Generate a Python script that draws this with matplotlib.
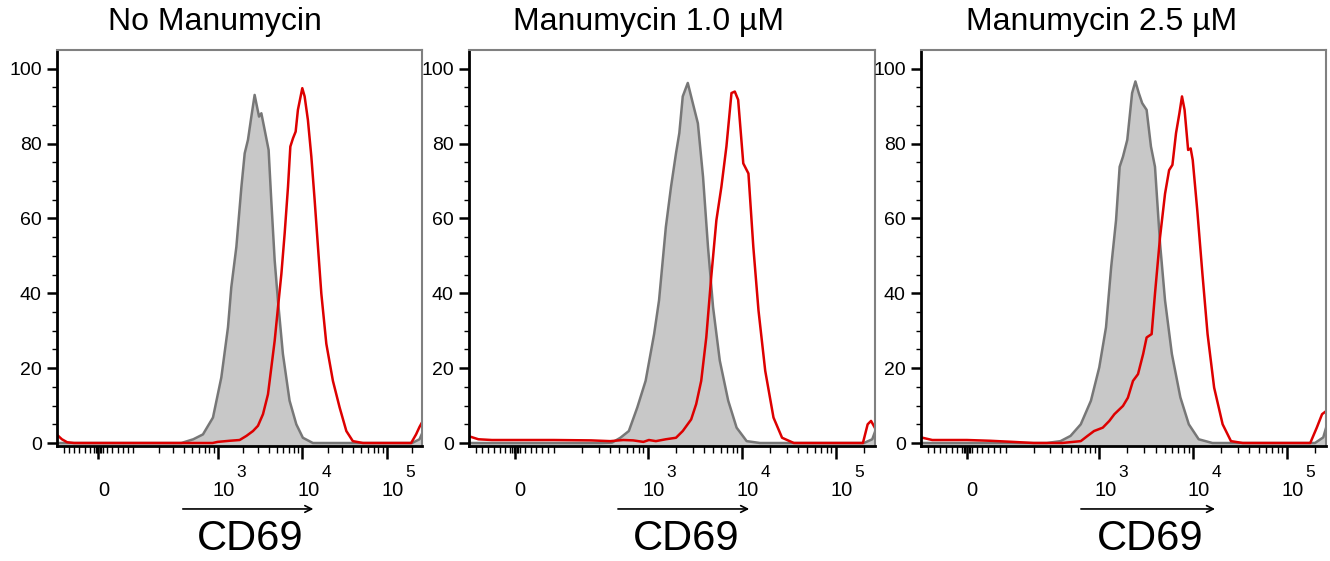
import numpy as np
import matplotlib
matplotlib.use("Agg")
import matplotlib.pyplot as plt
from matplotlib.ticker import FixedLocator, NullFormatter
import matplotlib.transforms as mtransforms

plt.rcParams['font.family'] = ['Liberation Sans', 'DejaVu Sans']

titles = ["No Manumycin", "Manumycin 1.0 µM", "Manumycin 2.5 µM"]

# CD69 fluorescence (x) and % of max (y)
ctrl1_x = [-120, 372, 515, 670, 880, 1105, 1325, 1450, 1665, 1910, 2090, 2285, 2505, 2740, 2920,
           3090, 3290, 3540, 4010, 4310, 4730, 5170, 5920, 7100, 8530, 10200, 13400, 200000, 245000, 262144]
ctrl1_y = [0, 0, 1.0, 2.3, 6.8, 17.5, 30.9, 41.6, 52.4, 68.4, 77.4, 81.0, 87.2, 93.0, 89.9,
           87.2, 88.1, 84.5, 78.3, 64.9, 48.8, 38.1, 23.8, 11.3, 5.0, 1.4, 0, 0, 1.0, 2.5]
stim1_x = [-120, -105, -90, -70, 870, 1000, 1390, 1820, 2190, 2620, 3000, 3440, 3940, 4320, 4730,
           5180, 5680, 6210, 6800, 7250, 7790, 8380, 8910, 10040, 10700, 11700, 12850, 14060, 15390,
           16870, 19330, 23130, 27770, 33350, 39800, 52400, 195000, 223000, 245000, 262144]
stim1_y = [2.2, 1.0, 0.2, 0, 0, 0.3, 0.6, 0.8, 1.9, 3.2, 4.6, 7.7, 13.0, 20.2, 27.3,
           36.3, 45.2, 56.0, 68.4, 79.2, 81.4, 83.2, 89.0, 94.8, 92.6, 86.3, 76.5, 64.9, 52.4,
           39.9, 26.5, 16.6, 9.5, 3.2, 0.5, 0, 0, 2.3, 4.3, 5.5]

ctrl2_x = [-120, 325, 417, 512, 630, 775, 950, 1170, 1320, 1560, 1770, 2000, 2170, 2360, 2670,
           3020, 3420, 3880, 4380, 4960, 5850, 7190, 8830, 11300, 15700, 200000, 245000, 262144]
ctrl2_y = [0, 0, 0.1, 1.4, 3.2, 9.5, 16.6, 29.1, 38.1, 57.7, 68.4, 77.4, 82.8, 92.6, 96.2,
           90.8, 85.4, 71.1, 52.4, 36.3, 22.0, 11.3, 4.1, 0.5, 0, 0, 1.0, 3.0]
stim2_x = [-120, -95, -60, 100, 250, 400, 550, 700, 900, 1030, 1220, 1560, 2000, 2360, 2900,
           3280, 3710, 4200, 4740, 5380, 6080, 6880, 7790, 8450, 9170, 10400, 11800, 13300, 15100,
           17800, 21800, 26900, 35900, 195000, 219000, 238000, 262144]
stim2_y = [1.8, 1.0, 0.8, 0.8, 0.7, 0.5, 0.8, 0.7, 0.3, 0.8, 0.5, 1.0, 1.4, 3.2, 6.3,
           10.4, 16.6, 28.2, 44.3, 59.5, 68.4, 79.2, 93.5, 93.9, 91.7, 74.7, 72.0, 52.4, 35.4,
           19.3, 6.8, 1.4, 0, 0, 5.0, 5.9, 4.0]

ctrl3_x = [-120, 276, 386, 494, 635, 815, 1000, 1180, 1340, 1510, 1650, 1790, 1990, 2240, 2430,
           2640, 2870, 3200, 3560, 3930, 4450, 5030, 5950, 7330, 9020, 11500, 16100, 200000, 245000, 262144]
ctrl3_y = [0, 0, 0.5, 1.9, 5.0, 11.3, 20.2, 30.9, 47.0, 59.5, 73.8, 76.5, 81.0, 93.5, 96.6,
           93.5, 90.8, 89.0, 79.2, 73.8, 53.3, 38.1, 23.8, 12.2, 5.0, 1.0, 0, 0, 1.5, 4.0]
stim3_x = [-120, -90, 0, 60, 120, 200, 400, 635, 750, 880, 1090, 1280, 1450, 1790, 2020,
           2290, 2590, 2940, 3200, 3620, 3930, 4450, 5030, 5560, 6030, 6590, 7160, 7630, 8130,
           8870, 9440, 9930, 11100, 12600, 14300, 16800, 20700, 25400, 33900, 178000, 209000, 238000, 262144]
stim3_y = [1.5, 0.8, 0.8, 0.6, 0.3, 0, 0, 0.5, 1.9, 3.2, 4.1, 5.9, 7.7, 9.9, 12.1,
           16.6, 18.4, 23.8, 28.2, 29.1, 39.9, 55.0, 66.6, 72.9, 74.3, 82.8, 88.1, 92.6, 89.0,
           78.3, 78.7, 75.6, 62.2, 45.2, 29.1, 14.8, 5.0, 0.5, 0, 0, 4.1, 7.7, 8.5]

ctrl = [(ctrl1_x, ctrl1_y), (ctrl2_x, ctrl2_y), (ctrl3_x, ctrl3_y)]
stim = [(stim1_x, stim1_y), (stim2_x, stim2_y), (stim3_x, stim3_y)]

xtick_vals = [0, 1e3, 1e4, 1e5]
xtick_base = ["0", "10", "10", "10"]
xtick_exp = ["", "3", "4", "5"]
xminor = ([-100, -85, -70, -55, -40, -25, -12, -8, -4, 4, 8, 12, 25, 40, 55, 70, 85, 100]
          + [k * 100 for k in range(2, 10)] + [k * 1000 for k in range(2, 10)]
          + [k * 10000 for k in range(2, 10)] + [200000])
yticks = [0, 20, 40, 60, 80, 100]

W, H = 1330, 561
fig = plt.figure(figsize=(W / 100, H / 100), dpi=100)
# axes boxes in pixels: left, right
boxes = [(57, 422), (469, 875), (921, 1326)]
title_pos = [0.433, 0.443, 0.447]
# x-label / arrow placement (axes fraction): label centre, arrow start, arrow end
xlab_pos = [(0.529, 0.337, 0.710), (0.534, 0.360, 0.697), (0.565, 0.388, 0.733)]
top_px, bot_px = 50, 446

for i, (l, r) in enumerate(boxes):
    ax = fig.add_axes([l / W, (H - bot_px) / H, (r - l) / W, (bot_px - top_px) / H])
    ax.set_xscale('symlog', linthresh=100, linscale=0.37)
    ax.set_xlim(-120, 262144)
    ax.set_ylim(-0.8, 105)

    cx, cy = ctrl[i]
    ax.fill_between(cx, cy, -0.8, color='#c8c8c8', lw=0)
    ax.plot(cx, cy, color='#777777', lw=1.8)
    sx, sy = stim[i]
    ax.plot(sx, sy, color='#dd0000', lw=1.8)

    ax.set_xticks(xtick_vals)
    ax.set_xticklabels([])
    ax.xaxis.set_minor_locator(FixedLocator(xminor))
    ax.xaxis.set_minor_formatter(NullFormatter())
    ax.set_yticks(yticks)
    ax.set_yticklabels([str(v) for v in yticks], fontsize=14)
    ax.yaxis.set_minor_locator(FixedLocator([v for v in range(5, 100, 5) if v % 20]))

    ax.tick_params(axis='x', which='major', length=9, width=1.8, direction='out')
    ax.tick_params(axis='x', which='minor', length=5, width=1, direction='out')
    ax.tick_params(axis='y', which='major', length=7, width=1.8, direction='out', pad=4)
    ax.tick_params(axis='y', which='minor', length=3.5, width=1, direction='out')

    for s in ['left', 'bottom']:
        ax.spines[s].set_color('black')
        ax.spines[s].set_linewidth(2)
    for s in ['top', 'right']:
        ax.spines[s].set_color('#808080')
        ax.spines[s].set_linewidth(1.5)

    base_tr = mtransforms.blended_transform_factory(ax.transData, ax.transAxes)
    for v, b, e in zip(xtick_vals, xtick_base, xtick_exp):
        dx = 5 if not e else 6
        tr = mtransforms.offset_copy(base_tr, fig=fig, x=dx, y=-50, units='dots')
        ax.text(v, 0, b, transform=tr, ha='center', va='baseline', fontsize=14.5)
        if e:
            tr2 = mtransforms.offset_copy(base_tr, fig=fig, x=19, y=-31, units='dots')
            ax.text(v, 0, e, transform=tr2, ha='left', va='baseline', fontsize=12.5)

    lx, a0, a1 = xlab_pos[i]
    ax.annotate('', xy=(a1, -0.159), xytext=(a0, -0.159), xycoords='axes fraction',
                arrowprops=dict(arrowstyle='->', lw=1.2, color='black', mutation_scale=12),
                annotation_clip=False)
    ax.text(lx, -0.235, 'CD69', transform=ax.transAxes, ha='center', va='center', fontsize=30)
    ax.text(title_pos[i], 1.07, titles[i], transform=ax.transAxes, ha='center', va='center',
            fontsize=23)

fig.savefig('out.png', dpi=100)
